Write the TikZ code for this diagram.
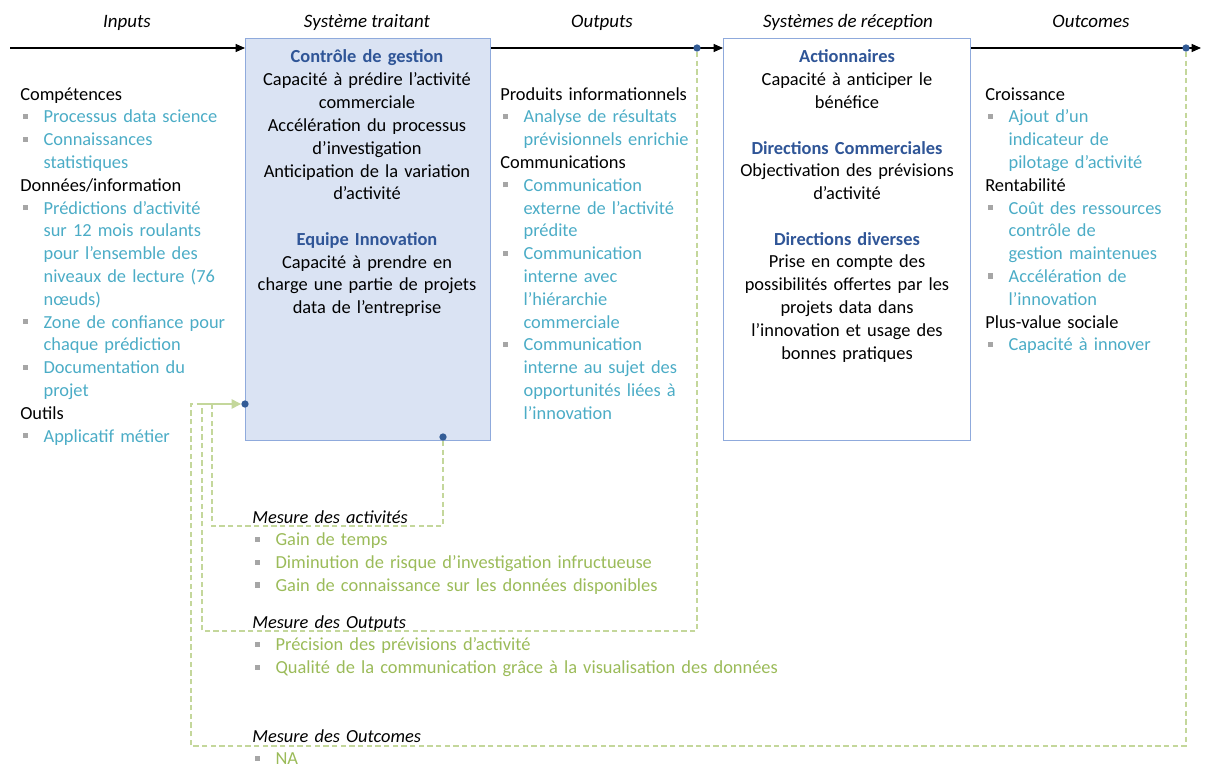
\documentclass[tikz,border=0pt]{standalone}
\usepackage{fontspec}
\setmainfont{Carlito}
\usetikzlibrary{arrows.meta}

\definecolor{boxfill}{HTML}{DAE3F3}
\definecolor{boxline}{HTML}{8FAADC}
\definecolor{titre}{HTML}{2F5597}
\definecolor{dotblue}{HTML}{335C96}
\definecolor{cyantxt}{HTML}{4BACC6}
\definecolor{greentxt}{HTML}{9BBB59}
\definecolor{dashgreen}{HTML}{C4D79B}
\definecolor{pucegris}{HTML}{A6A6A6}

\newcommand{\rubrique}[1]{\noindent{\color{black}#1}\par}
\newcommand{\puceitem}[1]{\hangindent=17.5pt\hangafter=1\noindent\makebox[17.5pt][l]{\hspace{1.8pt}\raisebox{2.9pt}{\textcolor{pucegris}{\rule{3.9pt}{3.9pt}}}}#1\par}

\tikzset{
  x=0.75pt, y=-0.75pt,
  txt/.style={font=\fontsize{13.8}{17.1}\selectfont, inner sep=0pt},
  entete/.style={txt, anchor=base, font=\fontsize{14.2}{17}\selectfont\itshape},
  colonne/.style={txt, anchor=base west, text width=220pt, align=left},
  procbox/.style={draw=boxline, line width=0.8pt, anchor=north west, inner sep=0pt,
    minimum height=301.5pt},
  boxtxt/.style={txt, anchor=base, text width=180pt, align=center},
  flow/.style={line width=0.8pt, -{Triangle[length=7pt,width=6pt]}},
  dot/.style={circle, fill=dotblue, inner sep=0pt, minimum size=5.5pt},
  mesure/.style={draw=dashgreen, line width=0.8pt, dash pattern=on 4pt off 2.5pt},
  retour/.style={draw=dashgreen, line width=0.9pt, -{Triangle[length=7pt,width=7pt]}}
}

\begin{document}
\begin{tikzpicture}
  \useasboundingbox (0,0) rectangle (1206,767);

  % en-tetes
  \node[entete] (hinputs) at (127,28) {Inputs};
  \node[entete] (htraitant) at (367,28) {Système traitant};
  \node[entete] (houtputs) at (602,28) {Outputs};
  \node[entete] (hrecep) at (848,28) {Systèmes de réception};
  \node[entete] (houtcomes) at (1091,28) {Outcomes};

  % boites
  \node[procbox, fill=boxfill, minimum width=183.75pt] (traitant) at (245,38) {};
  \node[procbox, fill=white, minimum width=185.25pt] (recep) at (723,38) {};

  \node[boxtxt] (ttraitant) at (367,63) {%
    \textbf{\color{titre}Contrôle de gestion}\\
    Capacité à prédire l’activité\\ commerciale\\
    Accélération du processus\\ d’investigation\\
    Anticipation de la variation\\ d’activité\\[17pt]
    \textbf{\color{titre}Equipe Innovation}\\
    Capacité à prendre en\\ charge une partie de projets\\ data de l’entreprise};

  \node[boxtxt] (trecep) at (847,63) {%
    \textbf{\color{titre}Actionnaires}\\
    Capacité à anticiper le\\ bénéfice\\[17pt]
    \textbf{\color{titre}Directions Commerciales}\\
    Objectivation des prévisions\\ d’activité\\[17pt]
    \textbf{\color{titre}Directions diverses}\\
    Prise en compte des\\ possibilités offertes par les\\ projets data dans\\
    l’innovation et usage des\\ bonnes pratiques};

  % colonnes
  \node[colonne, text=cyantxt] (inputs) at (20,100) {%
    \rubrique{Compétences}
    \puceitem{Processus data science}
    \puceitem{Connaissances\newline statistiques}
    \rubrique{Données/information}
    \puceitem{Prédictions d’activité\newline sur 12 mois roulants\newline pour l’ensemble des\newline niveaux de lecture (76\newline nœuds)}
    \puceitem{Zone de confiance pour\newline chaque prédiction}
    \puceitem{Documentation du\newline projet}
    \rubrique{Outils}
    \puceitem{Applicatif métier}};

  \node[colonne, text=cyantxt] (outputs) at (500,100) {%
    \rubrique{Produits informationnels}
    \puceitem{Analyse de résultats\newline prévisionnels enrichie}
    \rubrique{Communications}
    \puceitem{Communication\newline externe de l’activité\newline prédite}
    \puceitem{Communication\newline interne avec\newline l’hiérarchie\newline commerciale}
    \puceitem{Communication\newline interne au sujet des\newline opportunités liées à\newline l’innovation}};

  \node[colonne, text=cyantxt] (outcomes) at (985,100) {%
    \rubrique{Croissance}
    \puceitem{Ajout d’un\newline indicateur de\newline pilotage d’activité}
    \rubrique{Rentabilité}
    \puceitem{Coût des ressources\newline contrôle de\newline gestion maintenues}
    \puceitem{Accélération de\newline l’innovation}
    \rubrique{Plus-value sociale}
    \puceitem{Capacité à innover}};

  % mesures
  \node[colonne, text=greentxt, text width=420pt] (mact) at (252,523) {%
    \rubrique{\textit{Mesure des activités}}
    \puceitem{Gain de temps}
    \puceitem{Diminution de risque d’investigation infructueuse}
    \puceitem{Gain de connaissance sur les données disponibles}};

  \node[colonne, text=greentxt, text width=420pt] (mout) at (252,628) {%
    \rubrique{\textit{Mesure des Outputs}}
    \puceitem{Précision des prévisions d’activité}
    \puceitem{Qualité de la communication grâce à la visualisation des données}};

  \node[colonne, text=greentxt, text width=420pt] (mcome) at (252,742) {%
    \rubrique{\textit{Mesure des Outcomes}}
    \puceitem{NA}};

  % flux principal
  \coordinate (debut) at (10,48);
  \coordinate (fin) at (1201,48);
  \draw[flow] (debut) -- (traitant.west |- debut);
  \draw[flow] (traitant.east |- debut) -- (recep.west |- debut);
  \draw[flow] (recep.east |- debut) -- (fin);

  % points de mesure
  \node[dot] (indot) at (245,404) {};
  \node[dot] (actdot) at (443,437) {};
  \node[dot] (outdot) at (697,48) {};
  \node[dot] (comedot) at (1186,48) {};

  % boucles de retour
  \coordinate (c1) at (212,526);
  \coordinate (j1) at (212,404);
  \coordinate (c2) at (202,631);
  \coordinate (j2) at (202,404);
  \coordinate (c3) at (191,746);
  \coordinate (j3) at (191,404);
  \draw[mesure] (actdot) |- (c1) -- (j1);
  \draw[mesure] (outdot) |- (c2) -- (j2);
  \draw[mesure] (comedot) |- (c3) -- (j3) -- (j2);
  \draw[retour] (j2) -- (indot);
\end{tikzpicture}
\end{document}
